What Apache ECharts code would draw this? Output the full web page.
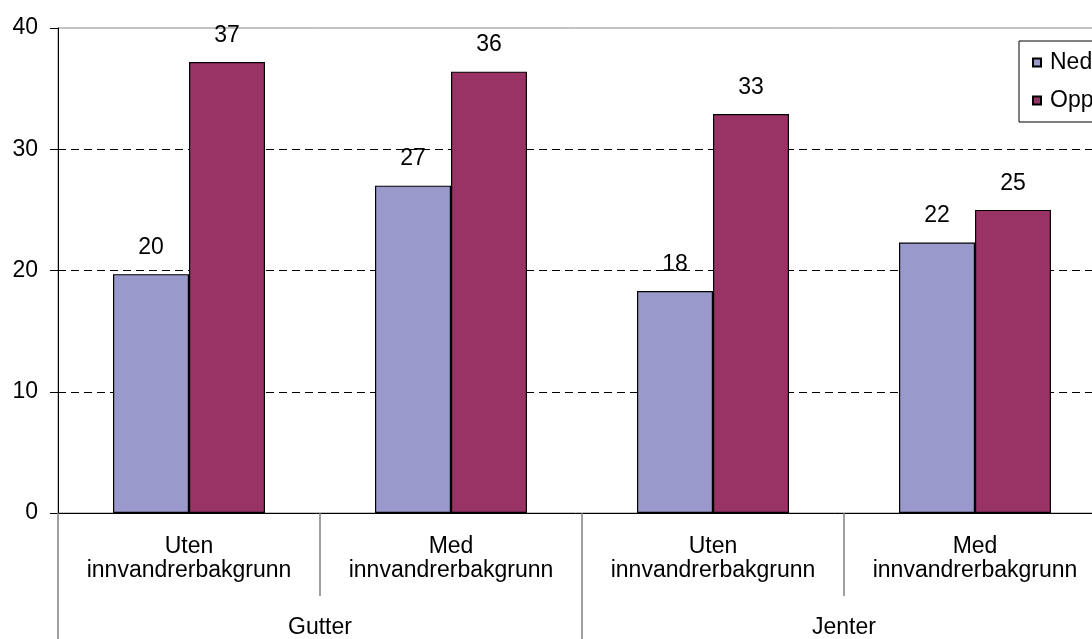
<!DOCTYPE html>
<html>
<head>
<meta charset="utf-8">
<script src="https://cdn.jsdelivr.net/npm/echarts@6/dist/echarts.min.js"></script>
<style>html,body{margin:0;padding:0;background:#fff}#c{width:1092px;height:639px}</style>
</head>
<body>
<div id="c"></div>
<script>
const subCategories = ['Uten\ninnvandrerbakgrunn', 'Med\ninnvandrerbakgrunn', 'Uten\ninnvandrerbakgrunn', 'Med\ninnvandrerbakgrunn'];
const groups = ['Gutter', 'Jenter'];
const seriesNames = ['Nedstemthet', 'Oppførselsproblemer'];
const nedValues = [19.7, 27.0, 18.3, 22.3];
const oppValues = [37.2, 36.4, 32.9, 25.0];
const yTicks = { min: 0, max: 40, interval: 10 };

const FONT = '"Liberation Sans", Arial, sans-serif';
const FS = 23;
const chart = echarts.init(document.getElementById('c'), null, { renderer: 'canvas' });
const labelCfg = {
  show: true, position: 'top', distance: 15,
  fontFamily: FONT, fontSize: FS, color: '#000',
  formatter: p => Math.round(p.value)
};
chart.setOption({
  animation: false,
  backgroundColor: '#fff',
  textStyle: { fontFamily: FONT },
  grid: { left: 58, width: 1048, top: 28, bottom: 126, outerBoundsMode: 'none', containLabel: false,
          show: true, borderColor: '#868686', borderWidth: 1, backgroundColor: 'transparent' },
  legend: {
    left: 1019, top: 41, orient: 'vertical',
    borderColor: '#000', borderWidth: 1, padding: [10, 10, 10, 13],
    itemWidth: 8, itemHeight: 8, itemGap: 15, icon: 'rect',
    textStyle: { fontFamily: FONT, fontSize: FS, color: '#000', lineHeight: 22, padding: [0, 0, 0, 4] },
    data: seriesNames
  },
  xAxis: [
    {
      type: 'category', data: subCategories, position: 'bottom',
      axisLine: { show: true, lineStyle: { color: '#000', width: 1 } },
      axisTick: { show: true, length: 83, lineStyle: { color: '#808080', width: 1.5 } },
      axisLabel: { margin: 22, fontFamily: FONT, fontSize: FS, color: '#000', lineHeight: 24, interval: 0 },
      splitLine: { show: false }
    },
    {
      type: 'category', data: groups, position: 'bottom',
      axisLine: { show: false },
      axisTick: { show: true, length: 126, lineStyle: { color: '#808080', width: 1.5 } },
      axisLabel: { margin: 103, fontFamily: FONT, fontSize: FS, color: '#000', lineHeight: 24, interval: 0 },
      splitLine: { show: false }
    }
  ],
  yAxis: {
    type: 'value', min: yTicks.min, max: yTicks.max, interval: yTicks.interval,
    axisLine: { show: true, lineStyle: { color: '#000', width: 1 } },
    axisTick: { show: true, length: 8, lineStyle: { color: '#000' } },
    axisLabel: { margin: 20, fontFamily: FONT, fontSize: FS, color: '#000' },
    splitLine: { show: true, showMinLine: false, showMaxLine: false, lineStyle: { color: '#000', type: [8, 5], width: 1 } }
  },
  series: [
    {
      name: seriesNames[0], type: 'bar', xAxisIndex: 0, data: nedValues,
      barWidth: 76, barGap: '0%',
      itemStyle: { color: '#9999CC', borderColor: '#000', borderWidth: 1.2 },
      label: labelCfg
    },
    {
      name: seriesNames[1], type: 'bar', xAxisIndex: 0, data: oppValues,
      barWidth: 76, barGap: '0%',
      itemStyle: { color: '#993366', borderColor: '#000', borderWidth: 1.2 },
      label: labelCfg
    }
  ]
});
</script>
</body>
</html>
